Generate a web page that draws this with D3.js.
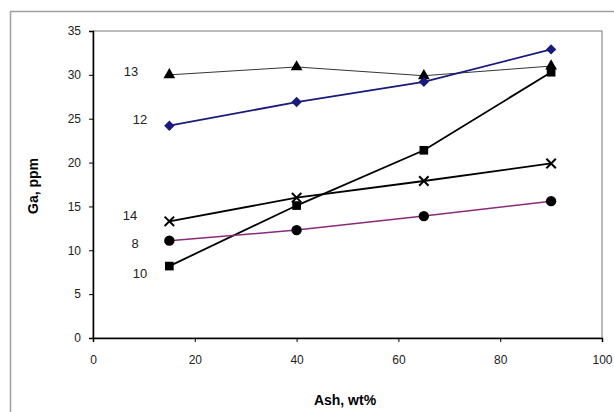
<!DOCTYPE html>
<html><head><meta charset="utf-8">
<script src="https://cdn.jsdelivr.net/npm/d3@7"></script>
<style>body{margin:0;background:#fff}svg{display:block}</style>
</head><body>
<svg id="c" width="614" height="412"></svg>
<script>
const ashX = [15, 40, 65, 90];
const s13 = [30.0, 30.9, 29.9, 31.0];
const s12 = [24.2, 26.9, 29.2, 32.9];
const s10 = [8.2, 15.1, 21.4, 30.3];
const s14 = [13.3, 16.0, 17.9, 19.9];
const s8 = [11.1, 12.3, 13.9, 15.6];
const xTicks = [0, 20, 40, 60, 80, 100];
const yTicks = [0, 5, 10, 15, 20, 25, 30, 35];
const seriesNames = ["13", "12", "14", "8", "10"];

const svg = d3.select("#c");
const m = {l: 93, t: 31, r: 602, b: 338};
const x = d3.scaleLinear().domain([0, 100]).range([m.l, m.r]);
const y = d3.scaleLinear().domain([0, 35]).range([m.b, m.t]);
const font = "Arial, 'Liberation Sans', sans-serif";

svg.append("rect").attr("x", 10.5).attr("y", 11.5).attr("width", 620).attr("height", 420)
  .attr("fill", "none").attr("stroke", "#a0a0a0").attr("stroke-width", 1.5);
svg.append("rect").attr("x", m.l).attr("y", m.t).attr("width", m.r - m.l).attr("height", m.b - m.t)
  .attr("fill", "none").attr("stroke", "#777").attr("stroke-width", 1);

const xa = svg.append("g").attr("transform", `translate(0,${m.b})`)
  .call(d3.axisBottom(x).tickValues(xTicks).tickSize(4).tickPadding(13));
const ya = svg.append("g").attr("transform", `translate(${m.l},0)`)
  .call(d3.axisLeft(y).tickValues(yTicks).tickSize(4).tickPadding(8));
[xa, ya].forEach(a => {
  a.select(".domain").attr("stroke", "#000").attr("stroke-width", 1.5);
  a.selectAll("line").attr("stroke", "#000");
  a.selectAll("text").attr("font-family", font).attr("font-size", 12).attr("fill", "#222");
});

svg.append("text").attr("x", 345).attr("y", 405).attr("text-anchor", "middle")
  .attr("font-family", font).attr("font-size", 14).attr("font-weight", "bold").text("Ash, wt%");
svg.append("text").attr("transform", "translate(38,186) rotate(-90)").attr("text-anchor", "middle")
  .attr("font-family", font).attr("font-size", 14).attr("font-weight", "bold").text("Ga, ppm");

const diamond = {draw(ctx, size) { const r = Math.sqrt(size) * 0.62; ctx.moveTo(0, -r); ctx.lineTo(r, 0); ctx.lineTo(0, r); ctx.lineTo(-r, 0); ctx.closePath(); }};
const line = d3.line().x(d => x(d[0])).y(d => y(d[1]));
const series = [
  {name: "13", vals: s13, color: "#000", w: 0.8, sym: d3.symbolTriangle, size: 60, lx: 131, ly: 76},
  {name: "12", vals: s12, color: "#1a1a7a", w: 1.8, sym: diamond, size: 70, lx: 140, ly: 124},
  {name: "10", vals: s10, color: "#000", w: 1.8, sym: d3.symbolSquare, size: 75, lx: 140, ly: 278},
  {name: "14", vals: s14, color: "#000", w: 1.8, sym: d3.symbolX, size: 60, lx: 130, ly: 220},
  {name: "8", vals: s8, color: "#8a2a7a", w: 1.5, sym: d3.symbolCircle, size: 85, lx: 135, ly: 248}
];
series.forEach(s => {
  const pts = ashX.map((v, i) => [v, s.vals[i]]);
  svg.append("path").datum(pts).attr("d", line).attr("fill", "none")
    .attr("stroke", s.color).attr("stroke-width", s.w);
  svg.selectAll(null).data(pts).enter().append("path")
    .attr("transform", d => `translate(${x(d[0])},${y(d[1])})`)
    .attr("d", d3.symbol().type(s.sym).size(s.size))
    .attr("fill", s.sym === d3.symbolX ? "none" : (s.name === "12" ? "#1a1a7a" : "#000"))
    .attr("stroke", s.sym === d3.symbolX ? "#000" : "none").attr("stroke-width", 2);
  svg.append("text").attr("x", s.lx).attr("y", s.ly).attr("text-anchor", "middle")
    .attr("font-family", font).attr("font-size", 13).attr("fill", "#222").text(s.name);
});
</script>
</body></html>
